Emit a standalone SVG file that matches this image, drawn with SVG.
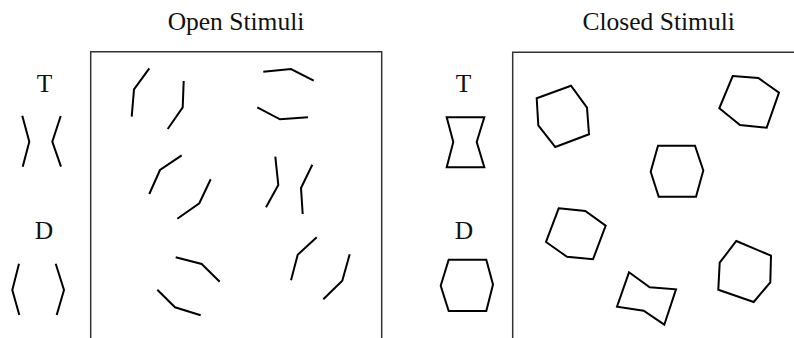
<svg xmlns="http://www.w3.org/2000/svg" width="794" height="338" viewBox="0 0 794 338">
<style>
text{font-family:"Liberation Serif","Times New Roman",serif;font-size:25.5px;fill:#111;text-anchor:middle}
.frame{fill:none;stroke:#333;stroke-width:1.5}
.st{fill:none;stroke:#000;stroke-width:2;stroke-linejoin:miter}
</style>
<rect width="794" height="338" fill="#fff"/>
<g id="open-panel">
<text x="236" y="30">Open Stimuli</text>
<path class="frame" d="M90.7,340 V51.7 H381.7 V340"/>
<text x="44.5" y="91.7">T</text>
<text x="44" y="239.3">D</text>
</g>
<g id="open-target">
<polyline class="st" points="22.3,115.7 29.3,141.7 22.7,166.7"/>
<polyline class="st" points="60.7,116 52.3,141.7 61,166.7"/>
</g>
<g id="open-distractor">
<polyline class="st" points="19,263.7 12.3,290 19.3,315"/>
<polyline class="st" points="55.7,263.7 64,290 56.7,315"/>
</g>
<g id="open-field">
<polyline class="st" points="149.3,68.3 134,89.3 131.7,116.7"/>
<polyline class="st" points="183.7,81 182.7,107.3 167.7,129"/>
<polyline class="st" points="263.3,71.7 291,69 313.7,80.7"/>
<polyline class="st" points="257.3,107.3 280,119.3 308,117.3"/>
<polyline class="st" points="181.7,155.3 160,170 149.3,194"/>
<polyline class="st" points="210.7,179.3 199.3,203.3 177.3,218.7"/>
<polyline class="st" points="275.3,156.7 278.3,185 266,207.3"/>
<polyline class="st" points="312.3,164.7 301,188 302.7,214"/>
<polyline class="st" points="175.7,257.3 201.7,264 219.7,281.7"/>
<polyline class="st" points="157.3,289.7 175,307.3 200.7,315.3"/>
<polyline class="st" points="316.7,237.3 297.7,254.7 291,280.3"/>
<polyline class="st" points="349.7,254.3 342.3,280.7 323.3,299.3"/>
</g>
<g id="closed-panel">
<text x="658.7" y="30">Closed Stimuli</text>
<path class="frame" d="M512.7,340 V52.3 H800"/>
<text x="463.5" y="91.7">T</text>
<text x="464" y="239.3">D</text>
</g>
<g id="closed-target">
<polygon class="st" points="446.7,117.3 484.3,117.3 476.7,142 484.3,167.3 446.7,167.3 453.3,142"/>
</g>
<g id="closed-distractor">
<polygon class="st" points="448.7,259.7 486.3,259.7 493,284.5 486.3,311 448.7,311 440.7,285.7"/>
</g>
<g id="closed-field">
<polygon class="st" points="536.7,98.3 571,85.7 587,107.7 589,134.3 555.3,147 538.3,125.3"/>
<polygon class="st" points="732.7,76 758.3,78 779,92.7 766.7,127.7 740,125 719.3,108.3"/>
<polygon class="st" points="658,145.7 695,145.7 703.3,170.5 696,196.7 658.7,196.7 650.7,171.7"/>
<polygon class="st" points="558.7,208.3 585.3,211 605.7,225.7 593,259.3 567,256.7 546,242"/>
<polygon class="st" points="629,272.3 649.7,287.3 676,289.3 664.3,324.7 643.7,310.7 617,306.7"/>
<polygon class="st" points="736.3,241 771,255.7 770.3,282.3 753.7,302 718.3,289.7 719.7,262.7"/>
</g>
</svg>
